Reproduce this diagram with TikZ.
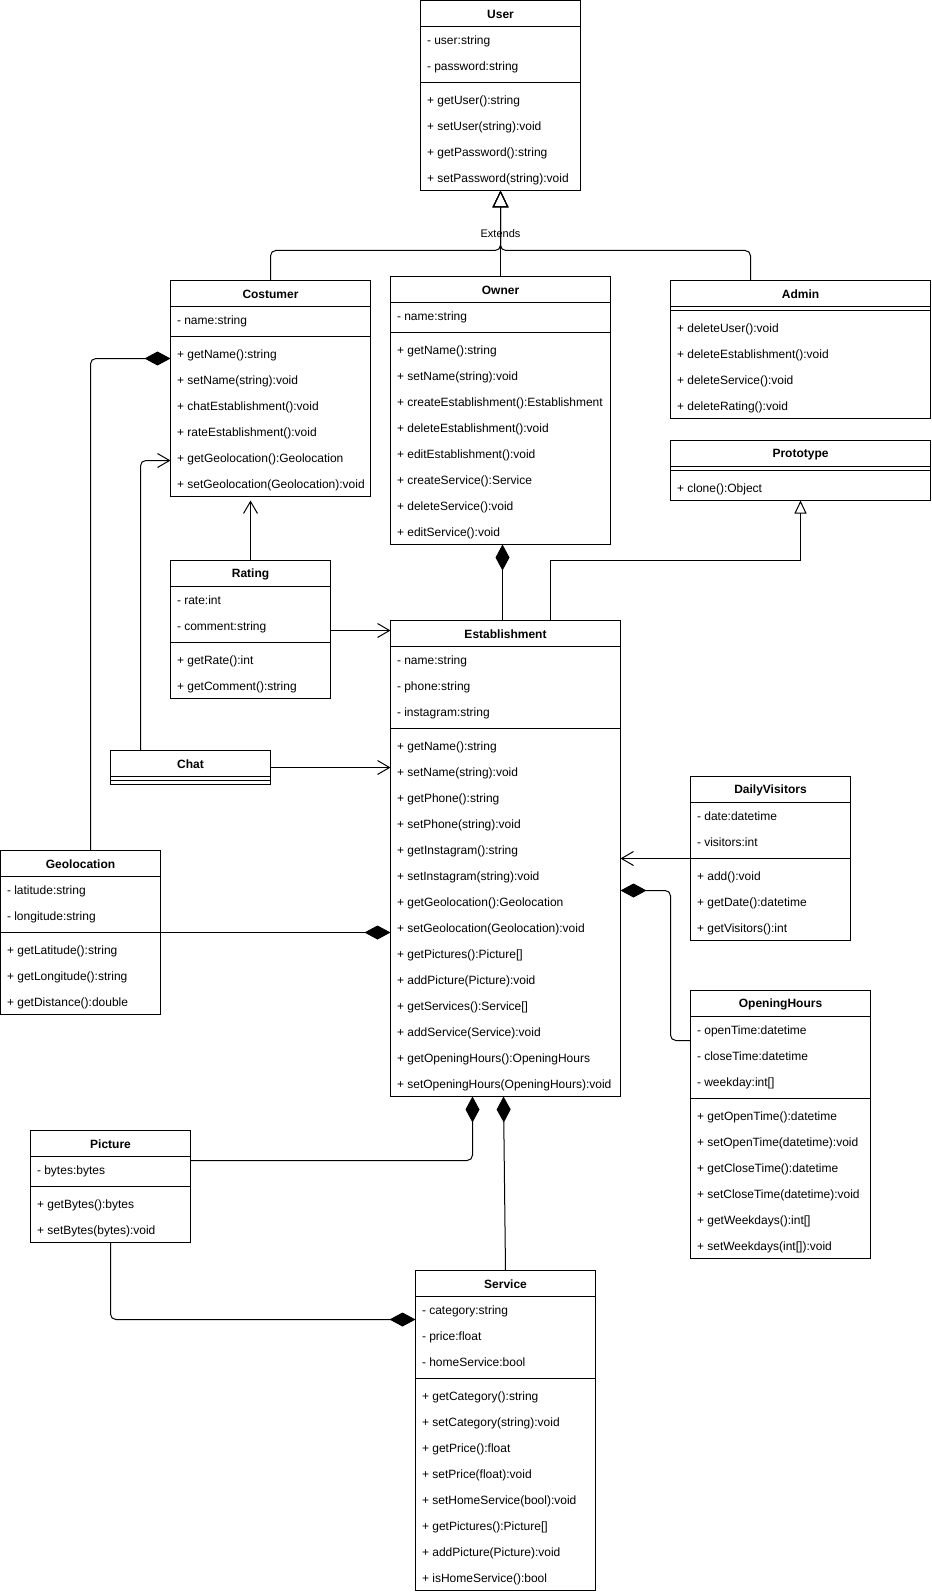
\documentclass[tikz,border=0pt]{standalone}
\usepackage{fontspec}
\setmainfont{Liberation Sans}
\usetikzlibrary{arrows.meta,calc}

% class box: name, top left, width, title, attributes, methods
\newcommand{\umlclass}[6]{%
  \begin{scope}[shift={#2}]
    \gdef\nattr{0}\gdef\nmeth{0}%
    \node[clstitle] (#1-title) at (#3/2,14) {#4};
    \draw (0,26) -- (#3,26);
    \if\relax\detokenize{#5}\relax\else
      \foreach \f [count=\i] in {#5} {\node[clsrow] at (0,\i*26) {\f}; \xdef\nattr{\i}}%
    \fi
    \pgfmathsetmacro\secy{26+26*\nattr}%
    \draw (0,\secy+4) -- (#3,\secy+4);
    \if\relax\detokenize{#6}\relax\else
      \foreach \f [count=\i] in {#6} {\node[clsrow] at (0,\secy+8+\i*26-26) {\f}; \xdef\nmeth{\i}}%
    \fi
    \pgfmathsetmacro\clsh{\secy+8+26*\nmeth}%
    \node[clsbox,minimum width=#3*0.75pt,minimum height=\clsh*0.75pt] (#1) at (0,0) {};
  \end{scope}}

\begin{document}
\begin{tikzpicture}[x=0.75pt,y=-0.75pt,line width=0.75pt,
every node/.style={font=\fontsize{9}{11}\selectfont},
clstitle/.style={font=\fontsize{9}{11}\selectfont\bfseries},
clsrow/.style={anchor=north west,inner xsep=4.5pt,inner ysep=0pt,minimum height=19.5pt,text height=6.5pt,text depth=2pt,yshift=-1.2pt},
clsbox/.style={draw,anchor=north west,inner sep=0pt,outer sep=0pt},
ext/.style={-{Triangle[open,length=12.75pt,width=12pt]},rounded corners=4pt},
impl/.style={-{Triangle[open,length=9.75pt,width=9pt]}},
assoc/.style={-{Straight Barb[length=9pt,width=10.5pt]},rounded corners=4pt},
compo/.style={-{Diamond[length=19.5pt,width=10.5pt]},rounded corners=4pt}]
\useasboundingbox (-0.5,-0.5) rectangle (930.5,1593.5);

\umlclass{user}{(420,0)}{160}{User}
  {- user:string, - password:string}
  {+ getUser():string, + setUser(string):void, + getPassword():string, + setPassword(string):void}
\umlclass{costumer}{(170,280)}{200}{Costumer}
  {- name:string}
  {+ getName():string, + setName(string):void, + chatEstablishment():void, + rateEstablishment():void, + getGeolocation():Geolocation, + setGeolocation(Geolocation):void}
\umlclass{owner}{(390,276)}{220}{Owner}
  {- name:string}
  {+ getName():string, + setName(string):void, + createEstablishment():Establishment, + deleteEstablishment():void, + editEstablishment():void, + createService():Service, + deleteService():void, + editService():void}
\umlclass{admin}{(670,280)}{260}{Admin}
  {}
  {+ deleteUser():void, + deleteEstablishment():void, + deleteService():void, + deleteRating():void}
\umlclass{prototype}{(670,440)}{260}{Prototype}
  {}
  {+ clone():Object}
\umlclass{rating}{(170,560)}{160}{Rating}
  {- rate:int, - comment:string}
  {+ getRate():int, + getComment():string}
\umlclass{establishment}{(390,620)}{230}{Establishment}
  {- name:string, - phone:string, - instagram:string}
  {+ getName():string, + setName(string):void, + getPhone():string, + setPhone(string):void, + getInstagram():string, + setInstagram(string):void, + getGeolocation():Geolocation, + setGeolocation(Geolocation):void, + getPictures():Picture[], + addPicture(Picture):void, + getServices():Service[], + addService(Service):void, + getOpeningHours():OpeningHours, + setOpeningHours(OpeningHours):void}
\umlclass{chat}{(110,750)}{160}{Chat}
  {}
  {}
\umlclass{dailyvisitors}{(690,776)}{160}{DailyVisitors}
  {- date:datetime, - visitors:int}
  {+ add():void, + getDate():datetime, + getVisitors():int}
\umlclass{geolocation}{(0,850)}{160}{Geolocation}
  {- latitude:string, - longitude:string}
  {+ getLatitude():string, + getLongitude():string, + getDistance():double}
\umlclass{openinghours}{(690,990)}{180}{OpeningHours}
  {- openTime:datetime, - closeTime:datetime, - weekday:int[]}
  {+ getOpenTime():datetime, + setOpenTime(datetime):void, + getCloseTime():datetime, + setCloseTime(datetime):void, + getWeekdays():int[], + setWeekdays(int[]):void}
\umlclass{picture}{(30,1130)}{160}{Picture}
  {- bytes:bytes}
  {+ getBytes():bytes, + setBytes(bytes):void}
\umlclass{service}{(415,1270)}{180}{Service}
  {- category:string, - price:float, - homeService:bool}
  {+ getCategory():string, + setCategory(string):void, + getPrice():float, + setPrice(float):void, + setHomeService(bool):void, + getPictures():Picture[], + addPicture(Picture):void, + isHomeService():bool}

% inheritance
\draw[ext] (costumer.north) |- (500,250) -- (user.south);
\draw[ext] (owner.north) -- node[font=\fontsize{8.25}{10}\selectfont]{Extends} (user.south);
\draw[ext] ($(admin.north west)+(80,0)$) |- (500,250) -- (user.south);
\draw[impl] ($(establishment.north west)+(160,0)$) |- (800,560) -- (prototype.south);

% associations
\draw[assoc] ($(chat.north west)+(30,0)$) |- ($(costumer.north west)+(0,180)$);
\draw[assoc,shorten >=3pt] (rating.north) -- (rating.north |- costumer.south);
\draw[assoc] ($(rating.north east)+(0,70)$) -- ($(establishment.north west)+(0,10)$);
\draw[assoc] ($(chat.north east)+(0,17)$) -- ($(establishment.north west)+(0,147)$);
\draw[assoc] ($(dailyvisitors.north west)+(0,82)$) -- ($(establishment.north east)+(0,238)$);

% compositions
\draw[compo] ($(geolocation.north)+(10,0)$) |- ($(costumer.north west)+(0,78)$);
\draw[compo] ($(establishment.north west)+(112,0)$) -- ($(owner.south west)+(112,0)$);
\draw[compo] ($(openinghours.north west)+(0,50)$) -| (670,890) -- ($(establishment.north east)+(0,270)$);
\draw[compo] ($(geolocation.north east)+(0,82)$) -- ($(establishment.north west)+(0,312)$);
\draw[compo] ($(picture.north east)+(0,30)$) -| ($(establishment.south west)+(82,0)$);
\draw[compo] (service.north) -- ($(establishment.south west)+(113,0)$);
\draw[compo] (picture.south) |- ($(service.north west)+(0,49)$);
\end{tikzpicture}
\end{document}
